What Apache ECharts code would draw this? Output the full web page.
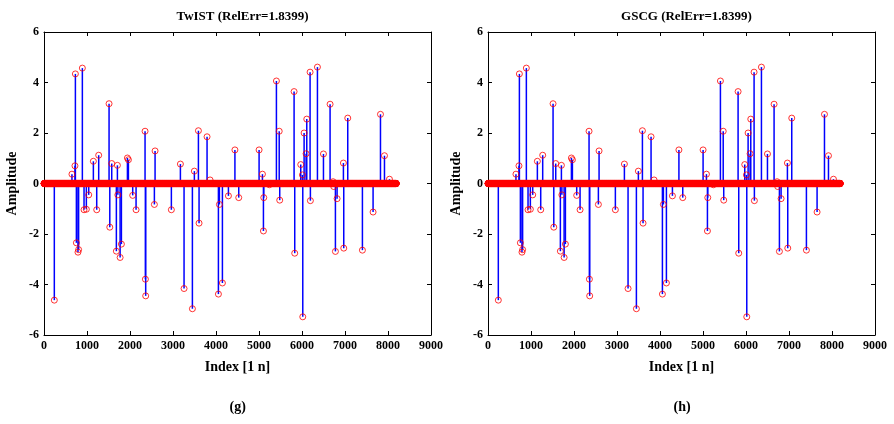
<!DOCTYPE html>
<html>
<head>
<meta charset="utf-8">
<script src="https://cdn.jsdelivr.net/npm/echarts@6/dist/echarts.min.js"></script>
<style>
html,body{margin:0;padding:0;background:#fff;}
#c{width:894px;height:424px;}
</style>
</head>
<body>
<div id="c"></div>
<script>
// ---- data ----
const signalLength = 8192;
const spikeIndex = [240,650,720,730,753,790,805,892,931,985,1040,1148,1226,1272,1513,1530,1575,1683,1707,1718,1770,1800,1940,1963,2063,2141,2350,2358,2365,2567,2583,2962,3172,3257,3451,3497,3591,3606,3792,3862,4056,4079,4149,4289,4440,4529,5002,5080,5103,5111,5242,5405,5470,5482,5816,5831,5971,6010,6018,6049,6095,6111,6188,6195,6359,6499,6653,6723,6738,6777,6816,6963,6971,7064,7405,7653,7825,7918,8034];
const twistValues = [-4.62,0.37,0.70,4.34,-2.35,-2.72,-2.62,4.57,-1.04,-1.02,-0.45,0.88,-1.04,1.12,3.16,-1.73,0.79,-2.68,0.72,-0.45,-2.93,-2.40,1.01,0.94,-0.47,-1.04,2.07,-3.79,-4.45,-0.83,1.29,-1.04,0.77,-4.16,-4.96,0.49,2.09,-1.57,1.85,0.14,-4.38,-0.83,-3.94,-0.49,1.33,-0.56,1.33,0.37,-1.88,-0.56,-0.05,4.06,2.07,-0.66,3.64,-2.76,0.75,0.34,-5.28,2.00,1.18,2.55,4.41,-0.68,4.61,1.17,3.14,0.07,-0.12,-2.69,-0.60,0.81,-2.56,2.59,-2.64,-1.13,2.74,1.10,0.17];
const gscgValues = [-4.62,0.37,0.70,4.34,-2.35,-2.72,-2.62,4.57,-1.04,-1.02,-0.45,0.88,-1.04,1.12,3.16,-1.73,0.79,-2.68,0.72,-0.45,-2.93,-2.40,1.01,0.94,-0.47,-1.04,2.07,-3.79,-4.45,-0.83,1.29,-1.04,0.77,-4.16,-4.96,0.49,2.09,-1.57,1.85,0.14,-4.38,-0.83,-3.94,-0.49,1.33,-0.56,1.33,0.37,-1.88,-0.56,-0.05,4.06,2.07,-0.66,3.64,-2.76,0.75,0.34,-5.28,2.00,1.18,2.55,4.41,-0.68,4.61,1.17,3.14,0.07,-0.12,-2.69,-0.60,0.81,-2.56,2.59,-2.64,-1.13,2.74,1.10,0.17];
const panelTitles = ['TwIST (RelErr=1.8399)', 'GSCG (RelErr=1.8399)'];
const panelTags = ['(g)', '(h)'];
const xLabel = 'Index [1 n]';
const yLabel = 'Amplitude';
const xMin = 0, xMax = 9000, xStep = 1000;
const yMin = -6, yMax = 6, yStep = 2;

// ---- build ----
const FONT = "'Liberation Serif', 'Times New Roman', serif";
function fullSignal(vals) {
  const s = new Array(signalLength).fill(0);
  spikeIndex.forEach((ix, k) => { s[ix - 1] = vals[k]; });
  return s.map((v, i) => [i + 1, v]);
}
const panels = [twistValues, gscgValues];
const gridLefts = [44, 488];
const W = 387;
const tickFmt = v => String(v);

const grids = [], xAxes = [], yAxes = [], series = [], titles = [], graphics = [];
panels.forEach((vals, p) => {
  grids.push({ left: gridLefts[p], top: 32, width: W, height: 303, containLabel: false });
  const common = () => ({
    axisLine: { show: true, onZero: false, lineStyle: { color: '#000', width: 1 } },
    axisTick: { show: true, inside: true, length: 4, lineStyle: { color: '#000' } },
    splitLine: { show: false }
  });
  xAxes.push(Object.assign({
    type: 'value', gridIndex: p, position: 'bottom', min: xMin, max: xMax, interval: xStep,
    name: xLabel, nameLocation: 'middle', nameGap: 25,
    nameTextStyle: { fontFamily: FONT, fontWeight: 'bold', fontSize: 14, color: '#000' },
    axisLabel: { fontFamily: FONT, fontWeight: 'bold', fontSize: 12, color: '#000', margin: 5, formatter: tickFmt }
  }, common()));
  xAxes.push(Object.assign({
    type: 'value', gridIndex: p, position: 'top', min: xMin, max: xMax, interval: xStep,
    axisLabel: { show: false }
  }, common()));
  yAxes.push(Object.assign({
    type: 'value', gridIndex: p, position: 'left', min: yMin, max: yMax, interval: yStep,
    name: yLabel, nameLocation: 'middle', nameGap: 25, nameRotate: 90,
    nameTextStyle: { fontFamily: FONT, fontWeight: 'bold', fontSize: 14, color: '#000' },
    axisLabel: { fontFamily: FONT, fontWeight: 'bold', fontSize: 12, color: '#000', margin: 5, formatter: tickFmt }
  }, common()));
  yAxes.push(Object.assign({
    type: 'value', gridIndex: p, position: 'right', min: yMin, max: yMax, interval: yStep,
    axisLabel: { show: false }
  }, common()));

  const stems = spikeIndex.map((ix, k) => [ix, vals[k]]);
  series.push({
    type: 'custom', xAxisIndex: 2 * p, yAxisIndex: 2 * p, data: stems, silent: true,
    z: 2,
    renderItem: function (params, api) {
      const a = api.coord([api.value(0), 0]);
      const b = api.coord([api.value(0), api.value(1)]);
      return { type: 'line', shape: { x1: a[0], y1: a[1], x2: b[0], y2: b[1] },
               style: { stroke: '#0000ff', lineWidth: 1.5 } };
    }
  });
  series.push({
    type: 'scatter', xAxisIndex: 2 * p, yAxisIndex: 2 * p, data: fullSignal(vals),
    symbol: 'circle', symbolSize: 6, silent: true, z: 3,
    progressive: 0, large: false,
    itemStyle: { color: 'rgba(0,0,0,0)', borderColor: '#ff0000', borderWidth: 1 }
  });

  titles.push({
    text: panelTitles[p], left: gridLefts[p] + W / 2, top: 5, textAlign: 'center',
    textStyle: { fontFamily: FONT, fontWeight: 'bold', fontSize: 13, color: '#000' }
  });
  graphics.push({
    type: 'text', left: gridLefts[p] + W / 2 - 8, top: 400,
    style: { text: panelTags[p], font: "bold 14px " + FONT, fill: '#000' }
  });
});

const chart = echarts.init(document.getElementById('c'), null, { renderer: 'canvas' });
chart.setOption({
  animation: false,
  backgroundColor: '#fff',
  title: titles,
  grid: grids,
  xAxis: xAxes,
  yAxis: yAxes,
  series: series,
  graphic: graphics
});
</script>
</body>
</html>
